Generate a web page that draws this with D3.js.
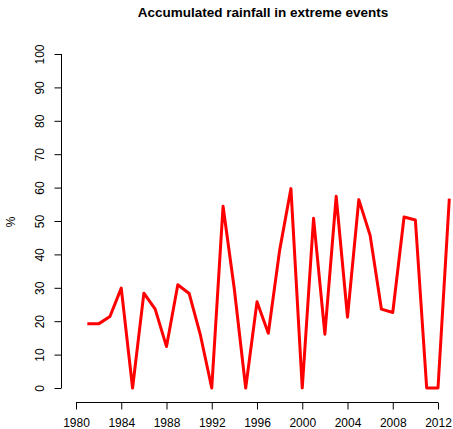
<!DOCTYPE html>
<html><head><meta charset="utf-8">
<script src="https://cdn.jsdelivr.net/npm/d3@7"></script>
<style>body{margin:0;background:#fff}svg{display:block}text{font-family:"Liberation Sans",Arial,sans-serif;fill:#000}</style>
</head><body><svg id="c" width="453" height="429"></svg>
<script>
const years = [1981,1982,1983,1984,1985,1986,1987,1988,1989,1990,1991,1992,1993,1994,1995,1996,1997,1998,1999,2000,2001,2002,2003,2004,2005,2006,2007,2008,2009,2010,2011,2012,2013];
const values = [19.2,19.2,21.4,29.9,0,28.4,23.6,12.4,30.9,28.3,15.8,0,54.4,29.5,0,25.8,16.4,41.2,59.7,0,50.8,16.1,57.4,21.2,56.4,45.7,23.6,22.6,51.2,50.3,0,0,56.7];
const xTicks = [1980,1984,1988,1992,1996,2000,2004,2008,2012];
const yTicks = [0,10,20,30,40,50,60,70,80,90,100];
const title = "Accumulated rainfall in extreme events";
const yLabel = "%";

const svg = d3.select("#c");
const x = d3.scaleLinear().domain([1980,2012]).range([76,438]);
const y = d3.scaleLinear().domain([0,100]).range([388,54]);

svg.append("text").attr("x",263).attr("y",17).attr("text-anchor","middle")
  .attr("font-weight","bold").attr("font-size",13.5).text(title);

const xa = svg.append("g").attr("transform","translate(0,402.5)")
  .call(d3.axisBottom(x).tickValues(xTicks).tickFormat(d3.format("d")).tickSize(7).tickPadding(9));
xa.selectAll("text").attr("font-size",12).style("font-family","'Liberation Sans',Arial,sans-serif");

const ya = svg.append("g").attr("transform","translate(61.5,0)")
  .call(d3.axisLeft(y).tickValues(yTicks).tickSize(7).tickPadding(0));
ya.selectAll(".tick text").attr("font-size",12).attr("text-anchor","middle")
  .attr("dy",null).attr("x",null)
  .attr("transform","translate(-22,0) rotate(-90)").attr("dy","0.35em")
  .style("font-family","'Liberation Sans',Arial,sans-serif");
[xa,ya].forEach(a=>{a.select(".domain").attr("stroke","#000");a.selectAll(".tick line").attr("stroke","#000");});
// R-style axis lines: span ticks only
xa.select(".domain").attr("d",`M${x(1980)},0H${x(2012)}`);
ya.select(".domain").attr("d",`M0,${y(0)}V${y(100)}`);

svg.append("text").attr("transform",`translate(11,${y(50)+1}) rotate(-90)`).attr("text-anchor","middle")
  .attr("dy","0.35em").attr("font-size",12).text(yLabel);

const line = d3.line().x((d,i)=>x(years[i])).y(d=>y(d));
svg.append("path").datum(values).attr("d",line).attr("fill","none")
  .attr("stroke","#ff0000").attr("stroke-width",3).attr("stroke-linejoin","round");
</script></body></html>
